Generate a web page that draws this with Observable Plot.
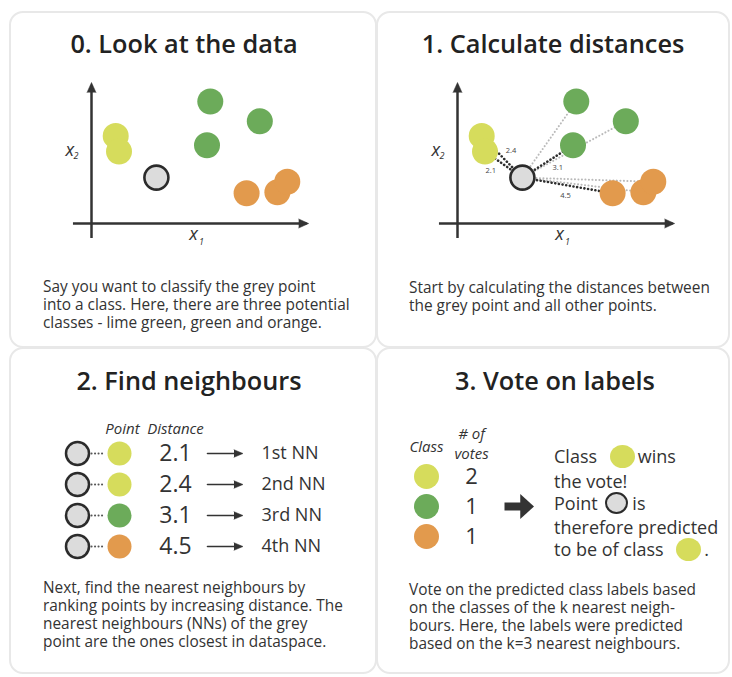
<!DOCTYPE html>
<html><head><meta charset="utf-8">
<script src="https://cdn.jsdelivr.net/npm/d3@7"></script>
<script src="https://cdn.jsdelivr.net/npm/@observablehq/plot@0.6"></script>
<style>
body{margin:0;background:#fff;font-family:"Open Sans",sans-serif;color:#333;}
#root{position:relative;width:732px;height:677px;overflow:hidden;background:#fff;}
.panel{position:absolute;border:2.5px solid #e8e8e8;border-radius:14px;box-sizing:border-box;}
.title{position:absolute;width:340px;font-weight:600;font-size:25.3px;line-height:30px;color:#222;text-align:center;white-space:nowrap;}
.caption{position:absolute;font-size:15.4px;line-height:18px;color:#333;white-space:nowrap;}
.plot{position:absolute;}
.verdict{position:absolute;font-size:18px;line-height:22px;color:#333;white-space:nowrap;}
.chip{display:inline-block;width:25px;height:23px;border-radius:50%;vertical-align:middle;box-sizing:border-box;position:relative;top:-2px;}
</style></head><body><div id="root"></div>
<script>
// ---- data ----
const classes = ["lime green", "green", "orange"];
const classColors = ["#d6dc5c", "#6cab5a", "#e29a4d"];
const pointX1 = [1.1, 1.25, 5.4, 7.65, 5.25, 7.05, 8.45, 8.9];
const pointX2 = [4.2, 3.45, 5.85, 4.9, 3.75, 1.45, 1.5, 2.0];
const pointClass = ["lime green", "lime green", "green", "green", "green", "orange", "orange", "orange"];
const pointDistance = ["2.4", "2.1", "", "", "3.1", "4.5", "", ""];
const queryX1 = [2.95];
const queryX2 = [2.2];
const nnRank = ["1st NN", "2nd NN", "3rd NN", "4th NN"];
const nnDistance = [2.1, 2.4, 3.1, 4.5];
const nnClass = ["lime green", "lime green", "green", "orange"];
const voteClass = ["lime green", "green", "orange"];
const voteCount = [2, 1, 1];
const titles = ["0. Look at the data", "1. Calculate distances", "2. Find neighbours", "3. Vote on labels"];
const captions = [
  ["Say you want to classify the grey point", "into a class. Here, there are three potential", "classes - lime green, green and orange."],
  ["Start by calculating the distances between", "the grey point and all other points."],
  ["Next, find the nearest neighbours by", "ranking points by increasing distance. The", "nearest neighbours (NNs) of the grey", "point are the ones closest in dataspace."],
  ["Vote on the predicted class labels based", "on the classes of the k nearest neigh-", "bours. Here, the labels were predicted", "based on the k=3 nearest neighbours."]
];

const colorOf = c => classColors[classes.indexOf(c)];

// ---- layout ----
const root = document.getElementById("root");
function el(cls, css, html) {
  const d = document.createElement("div");
  d.className = cls;
  Object.assign(d.style, css);
  if (html != null) d.innerHTML = html;
  root.appendChild(d);
  return d;
}
const panels = [
  {left: 9, top: 11, width: 368, height: 337, cx: 184, ty: 43, capL: 43, capT: 278},
  {left: 376, top: 11, width: 354, height: 337, cx: 553, ty: 43, capL: 409, capT: 279},
  {left: 9, top: 347, width: 368, height: 327, cx: 189, ty: 380, capL: 43, capT: 579},
  {left: 376, top: 347, width: 354, height: 327, cx: 555, ty: 380, capL: 409, capT: 581}
];
panels.forEach((p, i) => {
  el("panel", {left: p.left + "px", top: p.top + "px", width: p.width + "px", height: p.height + "px"});
  el("title", {left: (p.cx - 170) + "px", top: (p.ty - 15) + "px"}, titles[i]);
  el("caption", {left: p.capL + "px", top: p.capT + "px"}, captions[i].join("<br>"));
});

const font = {fontFamily: "Open Sans", color: "#333", background: "transparent", overflow: "visible"};

// right-pointing filled arrowhead symbol (shape only)
const headRight = {
  draw(ctx, size) {
    const r = Math.sqrt(size / Math.PI);
    ctx.moveTo(-r * 0.5, -r);
    ctx.lineTo(r * 0.6, 0);
    ctx.lineTo(-r * 0.5, r);
    ctx.closePath();
  }
};

// ---- scatter panels ----
function scatter(showDistances) {
  const pts = pointX1.map((x1, i) => ({x1, x2: pointX2[i], cls: pointClass[i], dist: pointDistance[i]}));
  const q = {x1: queryX1[0], x2: queryX2[0]};
  const marks = [
    Plot.ruleX([0], {y1: -0.72, y2: 6.6, stroke: "#333", strokeWidth: 2.5}),
    Plot.ruleY([0], {x1: -0.82, x2: 9.8, stroke: "#333", strokeWidth: 2.5}),
    Plot.vector([0], {x: () => 0, y: () => 7, shape: "spike", length: 10, r: 4.5, rotate: 0, dy: 10, fill: "#333", stroke: "#333", strokeWidth: 0.5}),
    Plot.vector([0], {x: () => 10.1, y: () => 0, shape: "spike", length: 10, r: 4.5, rotate: 90, dx: -10, fill: "#333", stroke: "#333", strokeWidth: 0.5}),
    Plot.text(["x"], {frameAnchor: "left", dx: -26, dy: 0, fontStyle: "italic", fontSize: 18, fill: "#333"}),
    Plot.text(["2"], {frameAnchor: "left", dx: -18, dy: 6, fontStyle: "italic", fontSize: 9, fill: "#333"}),
    Plot.text(["x"], {frameAnchor: "bottom", dx: -8, dy: 16, fontStyle: "italic", fontSize: 18, fill: "#333"}),
    Plot.text(["1"], {frameAnchor: "bottom", dx: 0, dy: 21, fontStyle: "italic", fontSize: 9, fill: "#333"})
  ];
  if (showDistances) {
    const link = {x1: () => q.x1, y1: () => q.x2, x2: "x1", y2: "x2", strokeLinecap: "round"};
    marks.push(
      Plot.link(pts.filter(d => !d.dist), {...link, stroke: "#b9b9b9", strokeWidth: 2, strokeDasharray: "0.1 3.4"}),
      Plot.link(pts.filter(d => d.dist), {...link, stroke: "#2e2e2e", strokeWidth: 2.6, strokeDasharray: "0.1 3.6"})
    );
    const offsets = {"2.1": [-13, 6], "2.4": [9, -6], "3.1": [10, 6], "4.5": [-2, 10]};
    for (const [lab, [dx, dy]] of Object.entries(offsets)) {
      marks.push(Plot.text(pts.filter(d => d.dist === lab), {
        x: d => (d.x1 + q.x1) / 2, y: d => (d.x2 + q.x2) / 2, text: "dist",
        dx, dy, fontSize: 7.5, fill: "#444"
      }));
    }
  }
  marks.push(
    Plot.dot(pts, {x: "x1", y: "x2", r: 13, fill: d => colorOf(d.cls)}),
    Plot.dot([q], {x: "x1", y: "x2", r: 12, fill: "#dcdcdc", stroke: "#2b2b2b", strokeWidth: 2.6})
  );
  return Plot.plot({
    width: 367, height: 200, marginLeft: 82, marginRight: 65, marginTop: 17, marginBottom: 37,
    x: {domain: [0, 10], axis: null}, y: {domain: [0, 7], axis: null},
    style: font, marks
  });
}
const s0 = scatter(false); s0.classList.add("plot"); Object.assign(s0.style, {left: "9px", top: "60px"}); root.appendChild(s0);
const s1 = scatter(true); s1.classList.add("plot"); Object.assign(s1.style, {left: "375px", top: "60px"}); root.appendChild(s1);

// ---- neighbours table ----
const rows = nnRank.map((rank, i) => ({rank, dist: nnDistance[i], cls: nnClass[i]}));
const t2 = Plot.plot({
  width: 368, height: 170, marginTop: 29, marginBottom: 10, marginLeft: 0, marginRight: 0,
  x: {type: "point", domain: ["query", "point", "distance", "arrow", "rank"], range: [66, 281], padding: 0, axis: null},
  y: {type: "point", domain: nnRank, range: [53, 146], padding: 0, axis: null},
  style: font,
  marks: [
    Plot.text(["Point"], {frameAnchor: "top", lineAnchor: "middle", x: () => "point", dx: -8, fontStyle: "italic", fontSize: 15, fill: "#333"}),
    Plot.text(["Distance"], {frameAnchor: "top", lineAnchor: "middle", x: () => "distance", dx: -8, fontStyle: "italic", fontSize: 15, fill: "#333"}),
    Plot.arrow(rows, {x1: () => "query", x2: () => "point", y1: "rank", y2: "rank", headLength: 0, insetStart: 14, insetEnd: 25,
      stroke: "#555", strokeWidth: 2, strokeDasharray: "0.1 3.4", strokeLinecap: "round"}),
    Plot.dot(rows, {x: () => "query", y: "rank", r: 11.5, fill: "#dcdcdc", stroke: "#2b2b2b", strokeWidth: 2.5}),
    Plot.dot(rows, {x: () => "point", y: "rank", r: 12, dx: -11, fill: d => colorOf(d.cls)}),
    Plot.text(rows, {x: () => "distance", y: "rank", text: d => d.dist.toFixed(1), dx: -8, fontSize: 23, fill: "#333"}),
    Plot.arrow(rows, {x1: () => "distance", x2: () => "rank", y1: "rank", y2: "rank", insetStart: 24, insetEnd: 49,
      headLength: 0, stroke: "#333", strokeWidth: 1.6}),
    Plot.vector(rows, {x: () => "rank", y: "rank", shape: "spike", length: 9, r: 3.8, rotate: 90, dx: -51, fill: "#333", stroke: "#333", strokeWidth: 0.5}),
    Plot.text(rows, {x: () => "rank", y: "rank", text: "rank", textAnchor: "start", dx: -28, fontSize: 18, fill: "#333"})
  ]
});
t2.classList.add("plot"); Object.assign(t2.style, {left: "9px", top: "400px"}); root.appendChild(t2);

// ---- votes table ----
const votes = voteClass.map((cls, i) => ({cls, n: voteCount[i]}));
const winnerRow = votes.filter(d => d.cls === "green");
const t3 = Plot.plot({
  width: 180, height: 170, marginTop: 47, marginBottom: 10, marginLeft: 0, marginRight: 0,
  x: {type: "point", domain: ["class", "votes", "winner"], range: [50, 178], padding: 0, axis: null},
  y: {type: "point", domain: voteClass, range: [76, 136], padding: 0, axis: null},
  style: font,
  marks: [
    Plot.text(["Class"], {frameAnchor: "top", lineAnchor: "middle", x: () => "class", fontStyle: "italic", fontSize: 15, fill: "#333"}),
    Plot.text(["# of\nvotes"], {frameAnchor: "top", lineAnchor: "middle", x: () => "votes", dx: -19, dy: -5, lineHeight: 1.3, fontStyle: "italic", fontSize: 15, fill: "#333"}),
    Plot.dot(votes, {x: () => "class", y: "cls", r: 12.5, fill: d => colorOf(d.cls)}),
    Plot.text(votes, {x: () => "votes", y: "cls", text: d => String(d.n), dx: -19, fontSize: 22, fill: "#333"}),
    Plot.arrow(winnerRow, {x1: () => "votes", x2: () => "winner", y1: "cls", y2: "cls", headLength: 0, insetStart: 14, insetEnd: 33,
      stroke: "#333", strokeWidth: 8, strokeLinecap: "butt"}),
    Plot.dot(winnerRow, {x: () => "winner", y: "cls", symbol: headRight, r: 12.5, dx: -28, fill: "#333", stroke: "none"})
  ]
});
t3.classList.add("plot"); Object.assign(t3.style, {left: "376px", top: "400px"}); root.appendChild(t3);

// ---- verdict text ----
const winner = voteClass[voteCount.indexOf(d3.max(voteCount))];
const chip = (c, grey) => grey
  ? `<span class="chip" style="background:#dcdcdc;border:2.5px solid #2b2b2b;width:23px;height:22px;margin:0 4px 0 3px"></span>`
  : `<span class="chip" style="background:${colorOf(c)};margin:0 3px 0 8px"></span>`;
el("verdict", {left: "554px", top: "445px"},
  `Class ${chip(winner)}wins<br>the vote!<br>Point ${chip(null, true)}is<br>therefore predicted<br>to be of class ${chip(winner)}.`);
</script></body></html>
